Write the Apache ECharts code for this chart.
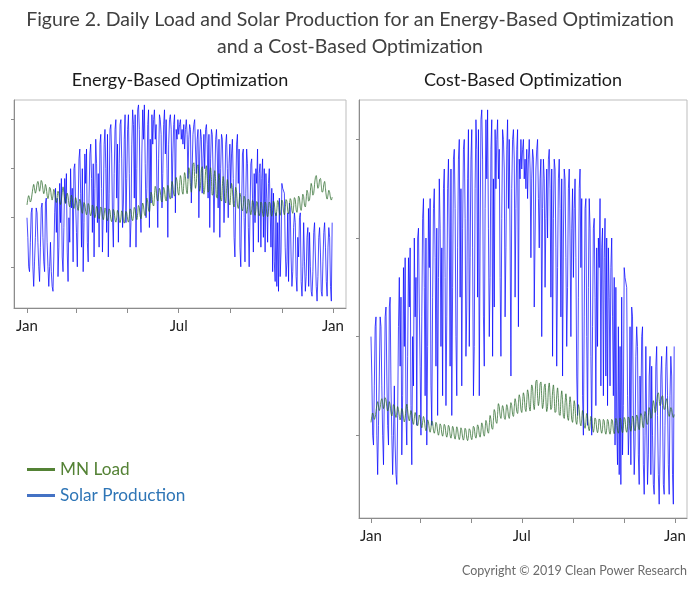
<!DOCTYPE html>
<html>
<head>
<meta charset="utf-8">
<script src="https://cdn.jsdelivr.net/npm/echarts@6/dist/echarts.min.js"></script>
<style>html,body{margin:0;padding:0;background:#fff;}#c{width:700px;height:595px;}</style>
</head>
<body>
<div id="c"></div>
<script>
// ---- data (daily values, Jan 1 .. Dec 31) ----
// MN daily load
var mnLoad = [
22.6,23.8,24.5,24.0,23.2,23.6,24.8, 26.0,26.8,25.9,25.0,25.6,26.9,27.4, 26.6,25.4,26.2,27.6,27.2,25.8,24.9,
25.5,26.8,26.1,24.6,23.9,24.8,26.2, 25.9,24.4,23.6,24.5,25.8,25.2,23.8, 23.1,24.2,25.4,24.9,23.4,22.7,23.6,
25.2,26.3,25.1,23.5,22.9,24.0,25.0, 24.3,22.8,22.2,23.4,24.6,23.9,22.4, 21.9,22.8,24.1,23.5,22.1,21.5,22.6,
23.8,23.2,21.6,20.9,21.8,23.1,22.7, 21.3,20.6,21.5,22.9,22.5,21.0,20.4, 21.2,22.6,22.2,20.7,20.0,20.9,22.3,
21.9,20.4,19.8,20.8,22.2,21.8,20.2, 19.6,20.5,22.0,21.6,20.0,19.4,20.3, 21.8,21.4,19.8,19.2,20.2,21.7,21.2,
19.7,19.1,20.0,21.5,21.0,19.5,19.0, 19.9,21.4,21.0,19.4,18.9,19.9,21.3, 21.0,19.6,19.1,20.2,21.8,21.5,19.9,
19.4,20.5,22.1,21.7,20.1,19.6,20.8, 22.5,22.0,20.3,19.8,21.2,23.0,22.4, 20.8,20.4,22.0,24.0,23.2,21.5,21.2,
23.0,25.2,24.6,22.8,22.4,24.2,26.4, 25.8,24.0,23.4,24.8,26.0,25.4,23.6, 23.2,24.6,26.2,25.6,23.9,23.4,25.0,
26.6,26.0,24.2,23.8,25.6,27.4,26.6, 24.8,24.4,26.4,28.2,27.4,25.2,24.6, 26.6,28.6,27.8,25.4,24.8,26.9,29.2,
28.4,25.8,24.9,27.4,30.2,29.6,26.4, 25.2,27.8,30.9,31.2,28.0,26.0,27.2, 30.4,30.8,27.6,25.4,26.6,29.8,30.4,
27.2,24.8,25.8,29.4,30.6,28.0,25.2, 25.6,28.8,30.2,27.8,24.6,24.8,28.0, 29.6,27.4,24.2,24.0,27.2,29.0,27.0,
23.8,23.4,26.4,28.4,26.6,23.6,23.0, 25.6,27.8,26.2,23.2,22.6,24.8,27.0, 25.8,22.9,22.2,24.0,26.2,25.2,22.6,
21.9,23.2,25.0,24.2,22.0,21.4,22.6, 24.4,23.8,21.7,20.9,22.0,23.8,23.4, 21.4,20.6,21.7,23.5,23.1,21.2,20.5,
21.5,23.3,23.0,21.1,20.4,21.4,23.2, 22.9,20.9,20.2,21.3,23.2,22.8,20.8, 20.2,21.3,23.2,22.9,20.9,20.3,21.5,
23.4,23.0,21.0,20.4,21.6,23.5,23.1, 21.1,20.5,21.7,23.6,23.2,21.2,20.6, 21.8,23.7,23.4,21.4,20.8,22.0,23.9,
23.5,21.5,20.9,22.2,24.1,23.7,21.7, 21.1,22.5,24.4,24.0,22.0,21.5,23.0, 24.8,24.3,22.5,22.2,23.8,25.6,25.0,
23.4,23.6,25.4,27.0,26.2,24.6,25.0, 26.8,28.2,28.6,27.2,26.0,26.4,27.8, 28.0,26.6,25.2,25.4,26.8,27.4,26.0,
24.4,23.8,24.6,25.6,25.2,24.0,23.6, 24.2
];
// Solar production per day (energy-based system units)
var solarProduction = [
/*Jan*/20,16,10,9,15,21,22,10,6,11,16,22,21,15,10,7,14,22,23,16,11,9,23,24,15,10,6,10,15,9,6,
/*Feb*/5,12,21,26,17,24,8,14,27,19,28,12,9,18,28,23,29,13,7,20,15,30,22,26,11,30,31,23,
/*Mar*/17,10,22,32,34,25,14,30,9,19,33,27,34,15,11,24,33,35,28,17,31,12,26,36,31,19,29,14,35,37,26,
/*Apr*/13,22,35,38,30,17,37,12,25,38,39,33,20,14,29,38,40,24,35,15,31,39,40,32,18,23,36,41,19,28,
/*May*/38,41,29,14,19,35,42,39,24,41,14,30,42,43,38,22,17,33,42,36,43,31,20,26,39,42,18,36,23,41,35,
/*Jun*/40,42,36,39,26,18,32,41,40,37,22,29,39,42,33,40,30,16,35,40,41,38,24,33,39,41,21,38,36,40,
/*Jul*/37,39,40,36,38,35,39,34,38,40,37,28,36,39,38,23,30,37,39,40,34,29,36,38,20,33,38,36,25,32,37,
/*Aug*/30,38,39,35,24,37,18,32,38,37,29,17,27,36,38,33,22,36,16,30,37,36,28,19,25,35,37,30,20,31,35,
/*Sep*/26,33,36,28,16,12,24,35,37,27,34,14,10,22,33,34,20,11,25,34,31,18,10,21,31,32,24,13,29,19,
/*Oct*/30,27,34,15,29,31,14,28,32,16,30,13,29,24,15,27,30,22,14,26,9,25,11,7,21,6,19,5,24,8,13,
/*Nov*/27,26,26,25,14,8,11,21,7,23,22,12,6,9,18,21,19,8,5,16,12,20,21,7,4,10,19,11,5,8,
/*Dec*/16,18,6,17,10,5,4,9,17,19,12,6,3,8,16,18,13,5,4,11,17,19,14,7,4,14,18,16,6,3,19
];
var tickDays = [0, 59, 120, 181, 243, 304, 365];
var labelDays = [0, 181, 365];
var labelNames = ['Jan', 'Jul', 'Jan'];
var energyTicks = [10, 20, 30, 40];
var costTicks = [20, 40, 60, 80];

function pairs(arr) { return arr.map(function (v, i) { return [i, v]; }); }
var loadData = pairs(mnLoad);
var solarData = pairs(solarProduction);

var FF = 'Lato, "Noto Sans", sans-serif';
function xAxisDef(gi, mn, mx) {
  return {
    type: 'value', gridIndex: gi, min: mn, max: mx,
    axisLine: { show: true, onZero: false, lineStyle: { color: '#8c8c8c', width: 1 } },
    axisTick: { show: true, length: 5, customValues: tickDays, lineStyle: { color: '#8c8c8c' } },
    axisLabel: {
      show: true, customValues: labelDays, margin: 11, color: '#222', fontSize: 15, fontFamily: FF,
      formatter: function (v) { var k = labelDays.indexOf(v); return k >= 0 ? labelNames[k] : ''; }
    },
    splitLine: { show: false }
  };
}
function yAxisDef(gi, mn, mx, ticks, show) {
  return {
    type: 'value', gridIndex: gi, min: mn, max: mx, show: show,
    axisLine: { show: true, onZero: false, lineStyle: { color: '#8c8c8c' } },
    axisTick: { show: true, length: 3, customValues: ticks, lineStyle: { color: '#8c8c8c' } },
    axisLabel: { show: false },
    splitLine: { show: false }
  };
}
var solarStyle = { color: 'rgba(0,0,255,0.7)', width: 1 };
var loadStyle = { color: 'rgba(34,100,34,0.72)', width: 1 };

var chart = echarts.init(document.getElementById('c'), null, { renderer: 'canvas' });
chart.setOption({
  animation: false,
  backgroundColor: '#fff',
  title: [
    { text: 'Figure 2. Daily Load and Solar Production for an Energy-Based Optimization', left: 'center', top: 5,
      textStyle: { fontSize: 19.5, fontWeight: 'normal', color: '#404040', fontFamily: FF } },
    { text: 'and a Cost-Based Optimization', left: 'center', top: 32,
      textStyle: { fontSize: 19.5, fontWeight: 'normal', color: '#404040', fontFamily: FF } },
    { text: 'Energy-Based Optimization', left: 175, textAlign: 'center', top: 66,
      textStyle: { fontSize: 18, fontWeight: 'normal', color: '#1a1a1a', fontFamily: FF } },
    { text: 'Cost-Based Optimization', left: 518, textAlign: 'center', top: 66,
      textStyle: { fontSize: 18, fontWeight: 'normal', color: '#1a1a1a', fontFamily: FF } },
    { text: 'Copyright © 2019 Clean Power Research', right: 8, top: 559,
      textStyle: { fontSize: 12.5, fontWeight: 'normal', color: '#6b6b6b', fontFamily: FF } }
  ],
  legend: {
    orient: 'vertical', left: 22, top: 456, itemWidth: 28, itemHeight: 3, itemGap: 9, icon: 'rect',
    textStyle: { fontSize: 17.2, fontFamily: FF },
    data: [
      { name: 'MN Load', itemStyle: { color: '#548235' }, textStyle: { color: '#548235' } },
      { name: 'Solar Production', itemStyle: { color: '#4472C4' }, textStyle: { color: '#2E75B6' } }
    ]
  },
  grid: [
    { left: 14, top: 100, width: 332, height: 208, show: true, borderColor: '#bdbdbd', borderWidth: 1, containLabel: false },
    { left: 359, top: 100, width: 328, height: 418, show: true, borderColor: '#bdbdbd', borderWidth: 1, containLabel: false }
  ],
  xAxis: [ xAxisDef(0, -15.5, 380.5), xAxisDef(1, -14.4, 379.4) ],
  yAxis: [
    yAxisDef(0, 1.6, 44, energyTicks, true),
    yAxisDef(1, 3.2, 88, costTicks, true),
    yAxisDef(1, 1.6, 44, [], false)
  ],
  series: [
    { name: 'Solar Production', type: 'line', xAxisIndex: 0, yAxisIndex: 0, data: solarData, symbol: 'none', lineStyle: solarStyle, itemStyle: { color: '#4472C4' } },
    { name: 'MN Load', type: 'line', xAxisIndex: 0, yAxisIndex: 0, data: loadData, symbol: 'none', smooth: 0.3, lineStyle: loadStyle, itemStyle: { color: '#548235' } },
    { name: 'Solar Production', type: 'line', xAxisIndex: 1, yAxisIndex: 2, data: solarData, symbol: 'none', lineStyle: solarStyle, itemStyle: { color: '#4472C4' } },
    { name: 'MN Load', type: 'line', xAxisIndex: 1, yAxisIndex: 1, data: loadData, symbol: 'none', smooth: 0.3, lineStyle: loadStyle, itemStyle: { color: '#548235' } }
  ]
});
</script>
</body>
</html>
